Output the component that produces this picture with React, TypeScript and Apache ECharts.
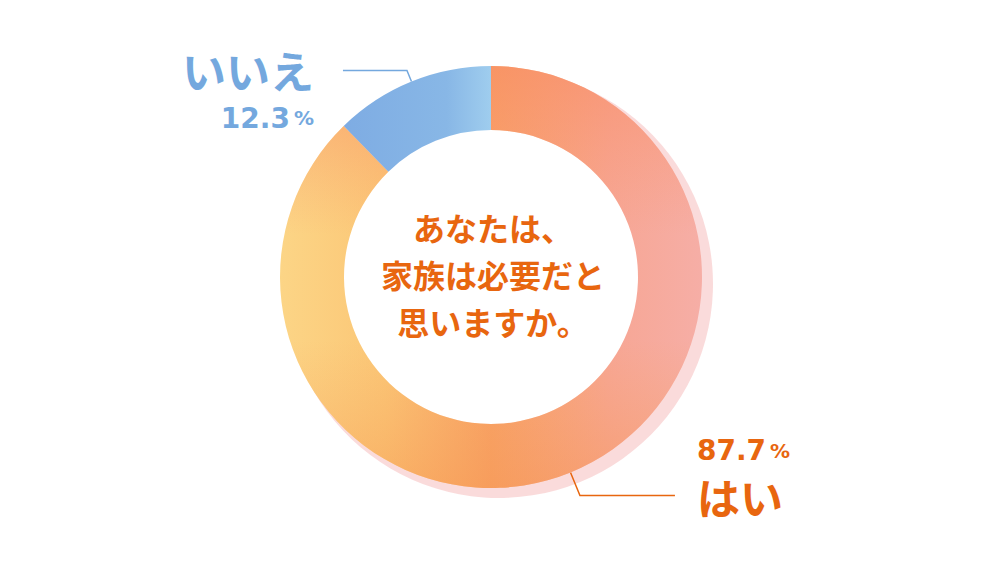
import { useEffect, useRef } from 'react';
import * as echarts from 'echarts';

// Survey result: "Do you think family is necessary?"
const categories = ['はい', 'いいえ'];
const values = [87.7, 12.3];
const questionLines = ['あなたは、', '家族は必要だと', '思いますか。'];

const ORANGE_TEXT = '#e8660f';
const BLUE_TEXT = '#74a8de';
const FONT = '"Noto Sans CJK JP", "Noto Sans", sans-serif';
const NUM_FONT = '"DejaVu Sans", "Noto Sans", sans-serif';

export default function App() {
  const ref = useRef<HTMLDivElement>(null);

  useEffect(() => {
    document.body.style.margin = '0';
    const chart = echarts.init(ref.current!, null, { renderer: 'svg' });

    const center = [491, 277];
    const radius = [147, 211];

    // Watercolour-like tones: yellow on the left, orange through the middle, pink on the right
    const yesFill = new echarts.graphic.LinearGradient(0, 0, 1, 0, [
      { offset: 0, color: '#fcd586' },
      { offset: 0.25, color: '#fbc676' },
      { offset: 0.5, color: '#f8a266' },
      { offset: 0.78, color: '#f7a694' },
      { offset: 1, color: '#f6aea6' },
    ]);
    const noFill = new echarts.graphic.LinearGradient(0, 0, 1, 0, [
      { offset: 0, color: '#7eace3' },
      { offset: 0.7, color: '#88b7e6' },
      { offset: 1, color: '#9fcdee' },
    ]);
    // Vertical tint: salmon toward the top, warm orange toward the bottom
    const yesTint = new echarts.graphic.LinearGradient(0, 0, 0, 1, [
      { offset: 0, color: 'rgba(249,140,100,0.6)' },
      { offset: 0.4, color: 'rgba(249,150,110,0)' },
      { offset: 0.65, color: 'rgba(247,160,90,0)' },
      { offset: 1, color: 'rgba(246,150,80,0.45)' },
    ]);

    const fills = [yesFill, noFill];
    const tints = [yesTint, 'rgba(0,0,0,0)'];
    const shadows = ['rgba(243,160,160,0.38)', 'rgba(0,0,0,0)'];
    const textColors = [ORANGE_TEXT, BLUE_TEXT];

    const numRich = (color: string, lineHeight: number) => ({
      num: { fontFamily: NUM_FONT, fontWeight: 'bold', fontSize: 28, lineHeight, color },
      unit: {
        fontFamily: NUM_FONT,
        fontWeight: 'bold',
        fontSize: 20,
        lineHeight,
        color,
        padding: [0, 0, 0, 4],
      },
    });

    const mainData = categories.map((name, i) => {
      const color = textColors[i];
      if (i === 0) {
        return {
          name,
          value: values[i],
          itemStyle: { color: fills[i] },
          label: {
            formatter: (p: any) => `{num|${p.value}}{unit|%}\n{name|${p.name}}`,
            padding: [0, 0, 46, 0],
            distanceToLabelLine: 22,
            rich: {
              ...numRich(color, 46),
              name: { fontFamily: FONT, fontWeight: 'bold', fontSize: 43, lineHeight: 44, color },
            },
          },
          labelLine: { length: 25, length2: 95, lineStyle: { color, width: 1.5 } },
        };
      }
      return {
        name,
        value: values[i],
        itemStyle: { color: fills[i] },
        label: {
          formatter: (p: any) => `{name|${p.name}}\n{num|${p.value}}{unit|%}`,
          padding: [46, 0, 0, 0],
          distanceToLabelLine: 29,
          rich: {
            name: { fontFamily: FONT, fontWeight: 'bold', fontSize: 44, lineHeight: 50, color, align: 'right' },
            ...numRich(color, 46),
          },
        },
        labelLine: { length: 12, length2: 64, lineStyle: { color, width: 1.5 } },
      };
    });

    const plain = (colors: any[]) =>
      categories.map((name, i) => ({ name, value: values[i], itemStyle: { color: colors[i] } }));

    chart.setOption({
      animation: false,
      series: [
        {
          type: 'pie',
          silent: true,
          z: 1,
          center: [center[0] + 8, center[1] + 7],
          radius: [radius[0] + 14, radius[1] + 3],
          startAngle: 90,
          clockwise: true,
          label: { show: false },
          labelLine: { show: false },
          data: plain(shadows),
        },
        {
          type: 'pie',
          silent: true,
          z: 2,
          center,
          radius,
          startAngle: 90,
          clockwise: true,
          avoidLabelOverlap: false,
          label: { show: true, position: 'outside' },
          labelLine: { show: true, smooth: false },
          data: mainData,
        },
        {
          type: 'pie',
          silent: true,
          z: 3,
          center,
          radius,
          startAngle: 90,
          clockwise: true,
          label: { show: false },
          labelLine: { show: false },
          data: plain(tints),
        },
      ],
      graphic: [
        {
          type: 'text',
          x: 493,
          y: 274,
          z: 10,
          style: {
            text: questionLines.join('\n'),
            fill: ORANGE_TEXT,
            fontFamily: FONT,
            fontWeight: 'bold',
            fontSize: 32,
            lineHeight: 47,
            align: 'center',
            verticalAlign: 'middle',
          },
        },
      ],
    });

    return () => chart.dispose();
  }, []);

  return <div ref={ref} style={{ width: 989, height: 567 }} />;
}
